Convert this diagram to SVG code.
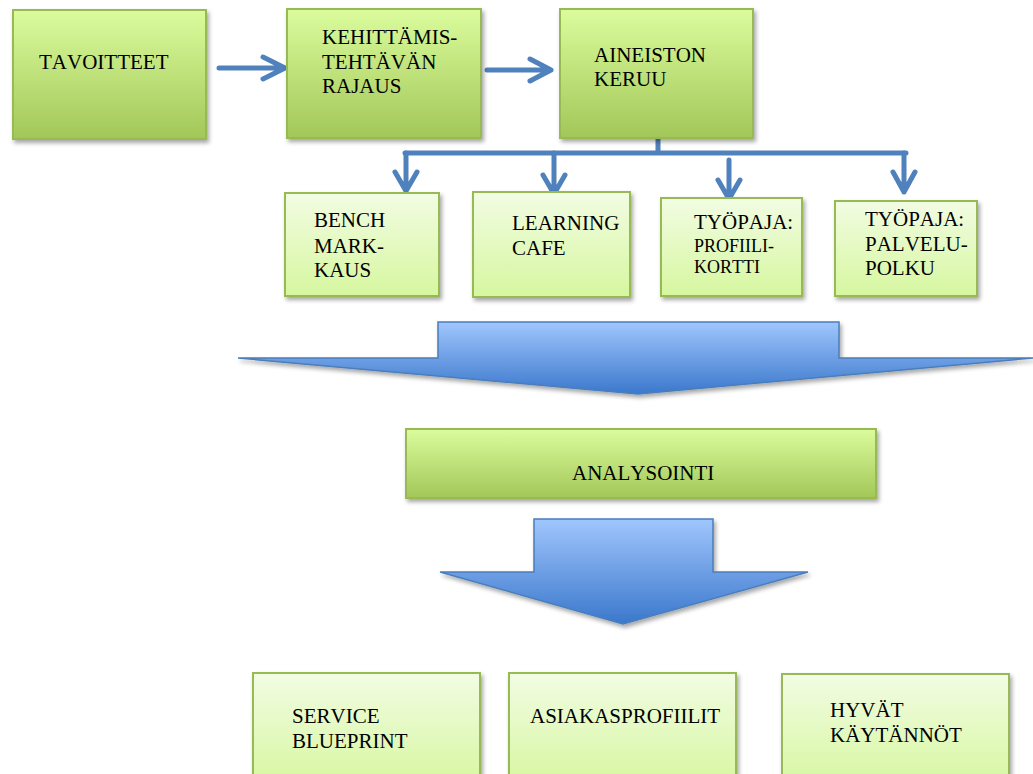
<svg xmlns="http://www.w3.org/2000/svg" width="1033" height="774" viewBox="0 0 1033 774">
<style>
.box{stroke:#98ba55;stroke-width:2;filter:url(#sh)}
.dark{fill:url(#gTop)}
.light{fill:url(#gLight)}
text{font-family:'Liberation Serif','Times New Roman',serif;font-size:21px;fill:#000;font-kerning:none}
.s{font-size:18px}
.con{fill:none;stroke:#4f81bd;stroke-width:5;stroke-linecap:round;stroke-linejoin:round}
.big{fill:url(#gBlue);stroke:#4a7ebb;stroke-width:1.5;filter:url(#sh)}
</style>
<defs>
<linearGradient id="gTop" x1="0" y1="0" x2="0" y2="1">
<stop offset="0" stop-color="#dbfc9d"/>
<stop offset="1" stop-color="#a2c758"/>
</linearGradient>
<linearGradient id="gLight" x1="0" y1="0" x2="0" y2="1">
<stop offset="0" stop-color="#f2fce3"/>
<stop offset="1" stop-color="#d6f79f"/>
</linearGradient>
<linearGradient id="gBlue" x1="0" y1="0" x2="0" y2="1">
<stop offset="0" stop-color="#a0c6fd"/>
<stop offset="1" stop-color="#3b78cc"/>
</linearGradient>
<filter id="sh" x="-10%" y="-10%" width="120%" height="130%">
<feDropShadow dx="2" dy="3" stdDeviation="2" flood-color="#000" flood-opacity="0.35"/>
</filter>
</defs>

<g id="connectors">
<path class="con" d="M219,68 H285 M263,57 L285,68 L263,79"/>
<path class="con" d="M487,70 H551 M530,59 L551,70 L530,81"/>
<path class="con" d="M658,139 V153 M405,153 H906"/>
<path class="con" d="M406,153 V191 M395,172 L406,191 L417,172"/>
<path class="con" d="M554,153 V194 M543,175 L554,194 L565,175"/>
<path class="con" d="M729,160 V199 M718,180 L729,199 L740,180"/>
<path class="con" d="M904,153 V192 M893,172 L904,192 L915,172"/>
</g>

<g id="tavoitteet">
<rect class="box dark" x="13" y="10" width="193" height="129"/>
<text x="39" y="69">TAVOITTEET</text>
</g>
<g id="kehittamis">
<rect class="box dark" x="287" y="9" width="194" height="129"/>
<text x="322" y="44">KEHITTÄMIS-</text>
<text x="322" y="69">TEHTÄVÄN</text>
<text x="322" y="93">RAJAUS</text>
</g>
<g id="aineiston">
<rect class="box dark" x="560" y="9" width="193" height="129"/>
<text x="594" y="62">AINEISTON</text>
<text x="594" y="86">KERUU</text>
</g>

<g id="bench">
<rect class="box light" x="285" y="193" width="154" height="103"/>
<text x="314" y="227">BENCH</text>
<text x="314" y="253">MARK-</text>
<text x="314" y="277">KAUS</text>
</g>
<g id="learning">
<rect class="box light" x="473" y="192" width="157" height="105"/>
<text x="512" y="230">LEARNING</text>
<text x="512" y="255">CAFE</text>
</g>
<g id="profiili">
<rect class="box light" x="661" y="198" width="141" height="98"/>
<text x="694" y="229">TYÖPAJA:</text>
<text class="s" x="694" y="252">PROFIILI-</text>
<text class="s" x="694" y="273">KORTTI</text>
</g>
<g id="palvelu">
<rect class="box light" x="835" y="201" width="142" height="95"/>
<text x="865" y="226">TYÖPAJA:</text>
<text x="865" y="251">PALVELU-</text>
<text x="865" y="275">POLKU</text>
</g>

<g id="arrow1">
<polygon class="big" points="438,322 839,322 839,358 1033,358 638,394 238,358 438,358"/>
</g>

<g id="analysointi">
<rect class="box dark" x="406" y="429" width="470" height="69"/>
<text x="572" y="480">ANALYSOINTI</text>
</g>

<g id="arrow2">
<polygon class="big" points="534,519 713,519 713,572 808,572 623,624 440,572 534,572"/>
</g>

<g id="service">
<rect class="box light" x="253" y="673" width="227" height="115"/>
<text x="292" y="723">SERVICE</text>
<text x="292" y="748">BLUEPRINT</text>
</g>
<g id="asiakas">
<rect class="box light" x="509" y="673" width="227" height="115"/>
<text x="530" y="723">ASIAKASPROFIILIT</text>
</g>
<g id="hyvat">
<rect class="box light" x="782" y="674" width="227" height="115"/>
<text x="830" y="717">HYVÄT</text>
<text x="830" y="742">KÄYTÄNNÖT</text>
</g>
</svg>
